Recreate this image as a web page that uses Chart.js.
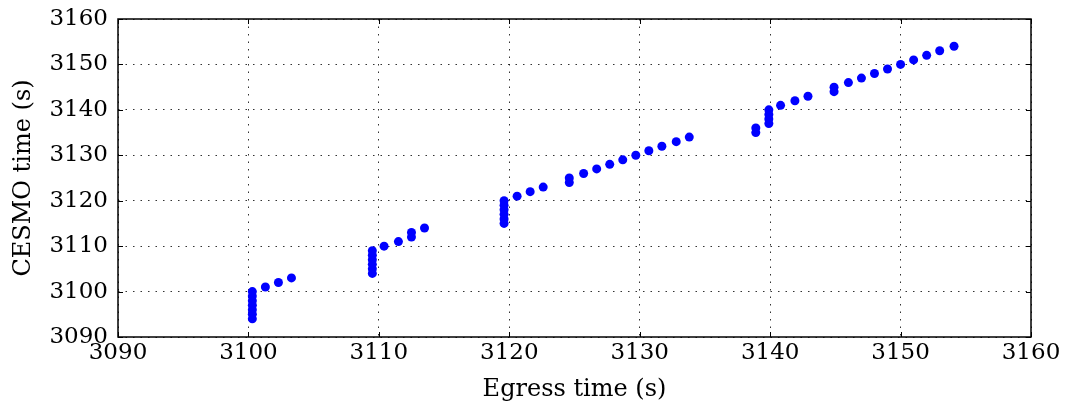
<!DOCTYPE html>
<html>
<head>
<meta charset="utf-8">
<script src="https://cdn.jsdelivr.net/npm/chart.js@4/dist/chart.umd.min.js"></script>
<style>
  html, body { margin: 0; padding: 0; background: #fff; }
  #wrap { width: 1067px; height: 407px; }
</style>
</head>
<body>
<div id="wrap"><canvas id="c" width="1067" height="407"></canvas></div>
<script>
// egress time (x) vs CESMO time (y)
const egress = [
  3100.3, 3100.3, 3100.3, 3100.3, 3100.3, 3100.3, 3100.3, 3101.3, 3102.3, 3103.3,
  3109.5, 3109.5, 3109.5, 3109.5, 3109.5, 3109.5, 3110.4, 3111.5, 3112.5, 3112.5, 3113.5,
  3119.6, 3119.6, 3119.6, 3119.6, 3119.6, 3119.6, 3120.6, 3121.6, 3122.6, 3124.6, 3124.6,
  3125.7, 3126.7, 3127.7, 3128.7, 3129.7, 3130.7, 3131.7, 3132.8, 3133.8,
  3138.9, 3138.9, 3139.9, 3139.9, 3139.9, 3139.9, 3140.8, 3141.9, 3142.9, 3144.9, 3144.9,
  3146.0, 3147.0, 3148.0, 3149.0, 3150.0, 3151.0, 3152.0, 3153.0, 3154.1
];
const cesmo = [
  3094, 3095, 3096, 3097, 3098, 3099, 3100, 3101, 3102, 3103,
  3104, 3105, 3106, 3107, 3108, 3109, 3110, 3111, 3112, 3113, 3114,
  3115, 3116, 3117, 3118, 3119, 3120, 3121, 3122, 3123, 3124, 3125,
  3126, 3127, 3128, 3129, 3130, 3131, 3132, 3133, 3134,
  3135, 3136, 3137, 3138, 3139, 3140, 3141, 3142, 3143, 3144, 3145,
  3146, 3147, 3148, 3149, 3150, 3151, 3152, 3153, 3154
];
const axisMin = 3090, axisMax = 3160, axisStep = 10;
const xTitle = 'Egress time (s)';
const yTitle = 'CESMO time (s)';

const points = egress.map((x, i) => ({ x: x, y: cesmo[i] }));
const FONT = "'DejaVu Serif', serif";

// frame + inward ticks on all four sides (classic matplotlib look)
const frame = {
  id: 'frame',
  afterDraw(chart) {
    const { ctx, chartArea: a, scales } = chart;
    ctx.save();
    ctx.strokeStyle = '#000';
    ctx.lineWidth = 1;
    ctx.beginPath();
    scales.x.ticks.forEach(t => {
      const px = Math.round(scales.x.getPixelForValue(t.value)) + 0.5;
      ctx.moveTo(px, a.bottom); ctx.lineTo(px, a.bottom - 5);
      ctx.moveTo(px, a.top); ctx.lineTo(px, a.top + 5);
    });
    scales.y.ticks.forEach(t => {
      const py = Math.round(scales.y.getPixelForValue(t.value)) + 0.5;
      ctx.moveTo(a.left, py); ctx.lineTo(a.left + 5, py);
      ctx.moveTo(a.right, py); ctx.lineTo(a.right - 5, py);
    });
    ctx.stroke();
    ctx.lineWidth = 1.5;
    ctx.strokeRect(a.left, a.top, a.right - a.left, a.bottom - a.top);
    ctx.restore();
  }
};

const gridOpts = { color: 'rgba(0,0,0,0.8)', lineWidth: 1, drawTicks: false };
const plain = v => String(v);

new Chart(document.getElementById('c'), {
  type: 'scatter',
  data: {
    datasets: [{
      data: points,
      backgroundColor: '#0000ff',
      borderWidth: 0,
      pointRadius: 4.5,
      pointHoverRadius: 4.5
    }]
  },
  options: {
    responsive: false,
    animation: false,
    events: [],
    layout: { padding: { top: 19, right: 36, left: 0, bottom: 0 } },
    plugins: { legend: { display: false }, tooltip: { enabled: false } },
    scales: {
      x: {
        type: 'linear', min: axisMin, max: axisMax,
        grid: gridOpts,
        border: { display: false, dash: [1.5, 6] },
        ticks: { stepSize: axisStep, padding: 2, color: '#000', maxRotation: 0, callback: plain,
                 font: { family: FONT, size: 23 } },
        title: { display: true, text: xTitle, color: '#000', padding: { top: 0, bottom: 3 },
                 font: { family: FONT, size: 24 } },
        afterFit: s => { s.height = 70; s.paddingLeft = 0; s.paddingRight = 0; }
      },
      y: {
        type: 'linear', min: axisMin, max: axisMax,
        grid: gridOpts,
        border: { display: false, dash: [1.5, 6] },
        ticks: { stepSize: axisStep, padding: 10, color: '#000', callback: plain,
                 font: { family: FONT, size: 23 } },
        title: { display: true, text: yTitle, color: '#000', padding: { top: 9, bottom: 0 },
                 font: { family: FONT, size: 24 } },
        afterFit: s => { s.width = 118; s.paddingTop = 0; s.paddingBottom = 0; }
      }
    }
  },
  plugins: [frame]
});
</script>
</body>
</html>
